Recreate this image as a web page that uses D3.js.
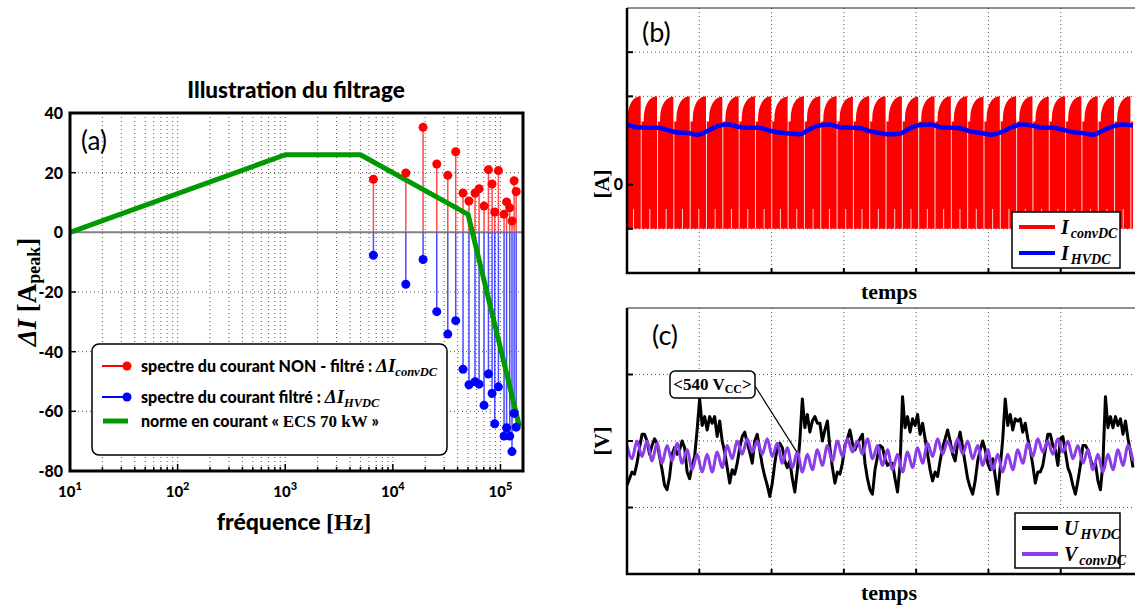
<!DOCTYPE html>
<html>
<head>
<meta charset="utf-8">
<script src="https://cdnjs.cloudflare.com/ajax/libs/d3/7.8.5/d3.min.js"></script>
<style>
  body { margin: 0; background: #fff; }
  text { font-family: Lato, "Open Sans", sans-serif; }
  .serif { font-family: "Liberation Serif", "Times New Roman", serif; }
  .heavy { font-weight: 900; }
</style>
</head>
<body>
<div id="chart"></div>
<script>
// ---------- data : (a) spectre ----------
var freqHz = [6600, 13200, 19100, 25600, 32400, 38400, 44900, 51000, 58000, 63300, 70400,
              77300, 83600, 88500, 95700, 108000, 114000, 122000, 128000, 134000, 140000];
var nonFiltre = [17.8, 19.9, 35.2, 22.9, 19.1, 27.0, 13.2, 10.5, 13.2, 14.6, 8.8,
                 21.0, 16.2, 6.8, 20.7, 6.1, 10.2, 8.2, 3.8, 17.3, 13.7];
var filtre = [-7.7, -17.4, -9.1, -26.6, -34.1, -29.6, -45.9, -51.1, -50.1, -50.9, -58.0,
              -47.5, -54.0, -64.2, -51.8, -68.3, -65.5, -68.3, -73.5, -60.7, -65.3];
var normeFreq = [10, 1000, 5000, 50000, 150000];
var normeVal = [0, 26, 26, 6, -65];
var yTicksA = [40, 20, 0, -20, -40, -60, -80];
var xTicksA = [10, 100, 1000, 10000, 100000];

// ---------- data : (b) courants ----------
var convPeak = [2.0, 2.0, 1.99, 2.0, 2.0, 1.99, 2.0, 2.0, 2.0, 1.99, 2.0, 2.0, 2.0, 1.99, 2.0, 2.0,
                2.0, 1.99, 2.0, 2.0, 2.0, 1.99, 2.0, 2.0, 2.0, 1.99, 2.0, 2.0, 2.0, 1.99, 2.0];
var convFoot = 1.43, convFloor = -1;
var iHvdc = [1.36, 1.30, 1.29, 1.29, 1.24, 1.18, 1.17, 1.13, 1.22, 1.33, 1.36, 1.31, 1.29, 1.29, 1.23,
             1.18, 1.16, 1.14, 1.25, 1.34, 1.36, 1.30, 1.29, 1.28, 1.21, 1.17, 1.14, 1.16, 1.28, 1.35,
             1.36, 1.30, 1.29, 1.27, 1.20, 1.17, 1.13, 1.19, 1.30, 1.36, 1.34, 1.29, 1.29, 1.25, 1.19,
             1.17, 1.13, 1.22, 1.32, 1.36, 1.34];

// ---------- data : (c) tensions ----------
var uHvdc = [520, 523, 526, 525, 530, 537, 543, 543, 540, 534, 538, 541, 539, 533, 527, 520, 518, 524, 534, 537,
             534, 536, 540, 537, 526, 523, 529, 533, 545,
             559, 547, 551, 545, 551, 548, 551, 542, 549, 540, 535, 528, 521, 527, 525, 530, 537, 542, 544, 539,
             535, 530, 540, 543, 536, 529, 524, 520, 515, 521, 530, 537, 539, 537, 531, 528, 531, 523, 517, 527, 540,
             559, 546, 552, 544, 549, 551, 548, 548, 540, 545, 549, 537, 528, 521, 526, 525, 530, 538, 541, 545,
             539, 536, 539, 541, 543, 530, 523, 518, 516, 527, 533, 538, 537, 532, 529, 530, 530, 523, 517, 529,
             560, 546, 551, 544, 550, 547, 552, 543, 548, 541, 534, 527, 522, 526, 524, 531, 537, 541, 545, 540,
             534, 531, 539, 544, 537, 530, 523, 519, 516, 522, 531, 536, 540, 536, 530, 527, 532, 524, 516, 528, 541,
             559, 547, 552, 545, 550, 549, 550, 544, 548, 541, 536, 529, 521, 526, 526, 529, 536, 543, 543, 538,
             536, 529, 541, 542, 535, 528, 525, 520, 516, 522, 529, 538, 538, 536, 532, 528, 530, 522, 518, 530,
             560, 546, 551, 546, 551, 547, 550, 543, 549, 541, 535, 528];
var vConv = [538, 532, 540, 533, 540, 531, 539, 530, 538, 531, 539, 530, 536, 527, 534, 526, 534, 526, 535, 528,
             538, 532, 540, 534, 541, 535, 540, 534, 541, 533, 539, 530, 537, 528, 535, 526, 534, 527, 536, 529,
             538, 531, 540, 533, 541, 535, 540, 534, 541, 532, 538, 529, 536, 527, 534, 526, 535, 528, 537, 530,
             539, 533, 541, 534, 540, 535, 541, 534, 540, 532, 538, 529, 536, 527, 534, 526, 534, 527, 536, 530,
             539, 533, 541, 535, 540, 534, 541, 535, 540, 532, 538, 530, 536, 527, 534, 526, 534, 527, 536, 529,
             538, 531];

var svg = d3.select("#chart").append("svg")
  .attr("width", 1135).attr("height", 608);

// ===================== (a) =====================
var xA = d3.scaleLog().domain([10, 1.62e5]).range([70, 523]);
var yA = d3.scaleLinear().domain([-80, 40]).range([471, 113]);
var gA = svg.append("g");

// grid
var minorA = xA.ticks().filter(function(f) { return f > 10 && f < 1.6e5; });
gA.selectAll(".vgrid").data(minorA).enter().append("line")
  .attr("x1", function(d) { return xA(d); }).attr("x2", function(d) { return xA(d); })
  .attr("y1", 113).attr("y2", 471)
  .attr("stroke", "#555").attr("stroke-width", 1).attr("stroke-dasharray", "1,3");
gA.selectAll(".hgrid").data([20, -20, -40, -60]).enter().append("line")
  .attr("x1", 70).attr("x2", 523)
  .attr("y1", function(d) { return yA(d); }).attr("y2", function(d) { return yA(d); })
  .attr("stroke", "#555").attr("stroke-width", 1).attr("stroke-dasharray", "1,3");

// zero line
gA.append("line").attr("x1", 70).attr("x2", 523).attr("y1", yA(0)).attr("y2", yA(0))
  .attr("stroke", "#808080").attr("stroke-width", 2);

// inward ticks
gA.selectAll(".bt").data(minorA).enter().append("line")
  .attr("x1", function(d) { return xA(d); }).attr("x2", function(d) { return xA(d); })
  .attr("y1", 471).attr("y2", function(d) { return xTicksA.indexOf(d) >= 0 ? 464 : 467; })
  .attr("stroke", "#000").attr("stroke-width", 1.5);
gA.selectAll(".lt").data(yTicksA).enter().append("line")
  .attr("x1", 70).attr("x2", 76)
  .attr("y1", function(d) { return yA(d); }).attr("y2", function(d) { return yA(d); })
  .attr("stroke", "#000").attr("stroke-width", 1.5);

// stems
gA.selectAll(".rs").data(freqHz).enter().append("line")
  .attr("x1", function(d) { return xA(d); }).attr("x2", function(d) { return xA(d); })
  .attr("y1", yA(0)).attr("y2", function(d, i) { return yA(nonFiltre[i]); })
  .attr("stroke", "#ff4a4a").attr("stroke-width", 1.5);
gA.selectAll(".bs").data(freqHz).enter().append("line")
  .attr("x1", function(d) { return xA(d); }).attr("x2", function(d) { return xA(d); })
  .attr("y1", yA(0)).attr("y2", function(d, i) { return yA(filtre[i]); })
  .attr("stroke", "#4a4aff").attr("stroke-width", 1.5);

// norme
gA.append("path")
  .datum(normeFreq)
  .attr("d", d3.line().x(function(d) { return xA(d); }).y(function(d, i) { return yA(normeVal[i]); }))
  .attr("fill", "none").attr("stroke", "#009a00").attr("stroke-width", 5)
  .attr("stroke-linejoin", "round");

// markers
gA.selectAll(".rm").data(freqHz).enter().append("circle")
  .attr("cx", function(d) { return xA(d); })
  .attr("cy", function(d, i) { return yA(nonFiltre[i]); })
  .attr("r", 4.5).attr("fill", "#ff0000");
gA.selectAll(".bm").data(freqHz).enter().append("circle")
  .attr("cx", function(d) { return xA(d); })
  .attr("cy", function(d, i) { return yA(filtre[i]); })
  .attr("r", 4.5).attr("fill", "#0000ff");

// frame
gA.append("rect").attr("x", 70).attr("y", 113).attr("width", 453).attr("height", 358)
  .attr("fill", "none").attr("stroke", "#000").attr("stroke-width", 3);

// tick labels
gA.selectAll(".yl").data(yTicksA).enter().append("text")
  .attr("class", "heavy")
  .attr("x", 63).attr("y", function(d) { return yA(d) + 6; })
  .attr("text-anchor", "end").attr("font-size", 16)
  .text(function(d) { return d; });
xTicksA.forEach(function(d) {
  var t = gA.append("text").attr("class", "heavy").attr("x", xA(d)).attr("y", 497)
    .attr("text-anchor", "middle").attr("font-size", 15);
  t.append("tspan").text("10");
  t.append("tspan").attr("dy", -7).attr("font-size", 11).text(Math.round(Math.log10(d)));
});

// titles
svg.append("text").attr("class", "heavy").attr("x", 296).attr("y", 98).attr("text-anchor", "middle")
  .attr("font-size", 22.5).text("Illustration du filtrage");
svg.append("text").attr("x", 81).attr("y", 150).attr("font-size", 26).text("(a)");

var xl = svg.append("text").attr("class", "heavy").attr("x", 294).attr("y", 530).attr("text-anchor", "middle")
  .attr("font-size", 23);
xl.append("tspan").text("fréquence ");
xl.append("tspan").attr("class", "serif").attr("font-weight", "bold").attr("font-size", 24).text("[Hz]");

var yl = svg.append("text").attr("transform", "translate(36,292) rotate(-90)")
  .attr("text-anchor", "middle").attr("class", "serif").attr("font-weight", "bold").attr("font-size", 27);
yl.append("tspan").attr("font-style", "italic").text("ΔI");
yl.append("tspan").text(" [A");
yl.append("tspan").attr("font-size", 18).attr("dy", 4).text("peak");
yl.append("tspan").attr("dy", -4).text("]");

// legend (a)
var lgA = svg.append("g");
lgA.append("rect").attr("x", 92).attr("y", 344).attr("width", 355).attr("height", 111).attr("rx", 7)
  .attr("fill", "#fff").attr("stroke", "#000").attr("stroke-width", 1.5);
var legA = [
  { y: 366, color: "#ff0000", marker: true, text: "spectre du courant NON - filtré : ", sub: "convDC" },
  { y: 397, color: "#0000ff", marker: true, text: "spectre du courant filtré : ", sub: "HVDC" },
  { y: 421, color: "#009a00", marker: false }
];
legA.forEach(function(e) {
  lgA.append("line").attr("x1", e.marker ? 102 : 103).attr("x2", 128).attr("y1", e.y).attr("y2", e.y)
    .attr("stroke", e.color).attr("stroke-width", e.marker ? 2 : 5);
  if (e.marker) lgA.append("circle").attr("cx", 127).attr("cy", e.y).attr("r", 4.5).attr("fill", e.color);
  var t = lgA.append("text").attr("class", "heavy").attr("x", 141).attr("y", e.y + 6).attr("font-size", 16);
  if (e.marker) {
    t.append("tspan").text(e.text);
    t.append("tspan").attr("class", "serif").attr("font-weight", "bold").attr("font-style", "italic").attr("font-size", 19).text("ΔI");
    t.append("tspan").attr("class", "serif").attr("font-weight", "bold").attr("font-style", "italic").attr("font-size", 12.5).attr("dy", 4).text(e.sub);
  } else {
    t.append("tspan").text("norme en courant « ");
    t.append("tspan").attr("class", "serif").attr("font-weight", "bold").attr("font-size", 17).text("ECS 70 kW");
    t.append("tspan").text(" »");
  }
});

// ===================== (b) & (c) common =====================
var xT = d3.scaleLinear().domain([0, 7]).range([627, 1133]);
var timeTicks = [1, 2, 3, 4, 5, 6];

svg.append("clipPath").attr("id", "clipB").append("rect")
  .attr("x", 627).attr("y", 8).attr("width", 508).attr("height", 265);
svg.append("clipPath").attr("id", "clipC").append("rect")
  .attr("x", 627).attr("y", 308).attr("width", 508).attr("height", 266);

function frame(g, top, bottom, yScale, yTicks) {
  g.selectAll(".vg").data(timeTicks).enter().append("line")
    .attr("x1", function(d) { return xT(d); }).attr("x2", function(d) { return xT(d); })
    .attr("y1", top).attr("y2", bottom)
    .attr("stroke", "#555").attr("stroke-width", 1).attr("stroke-dasharray", "1,3");
  g.selectAll(".hg").data(yTicks).enter().append("line")
    .attr("x1", 627).attr("x2", 1135)
    .attr("y1", function(d) { return yScale(d); }).attr("y2", function(d) { return yScale(d); })
    .attr("stroke", "#555").attr("stroke-width", 1).attr("stroke-dasharray", "1,3");
}
function axes(g, top, bottom, yScale, yTicks) {
  g.append("line").attr("x1", 627).attr("x2", 1135).attr("y1", top).attr("y2", top)
    .attr("stroke", "#222").attr("stroke-width", 1.2);
  g.append("line").attr("x1", 627).attr("x2", 627).attr("y1", top).attr("y2", bottom + 1)
    .attr("stroke", "#000").attr("stroke-width", 2.5);
  g.append("line").attr("x1", 626).attr("x2", 1135).attr("y1", bottom).attr("y2", bottom)
    .attr("stroke", "#000").attr("stroke-width", 2.5);
  g.selectAll(".bt").data(timeTicks).enter().append("line")
    .attr("x1", function(d) { return xT(d); }).attr("x2", function(d) { return xT(d); })
    .attr("y1", bottom).attr("y2", bottom - 5).attr("stroke", "#000").attr("stroke-width", 2);
  g.selectAll(".lt").data(yTicks).enter().append("line")
    .attr("x1", 627).attr("x2", 633)
    .attr("y1", function(d) { return yScale(d); }).attr("y2", function(d) { return yScale(d); })
    .attr("stroke", "#000").attr("stroke-width", 2);
}

// ===================== (b) =====================
var yB = d3.scaleLinear().domain([-2, 4]).range([273, 8]);
var gB = svg.append("g");
frame(gB, 8, 273, yB, [-1, 1, 2, 3]);

var finW = 7 / convPeak.length;
var finProfile = [[0.02, 0], [0.04, 0.3], [0.1, 0.51], [0.18, 0.66], [0.27, 0.77], [0.4, 0.88],
                  [0.57, 0.96], [0.72, 0.99], [0.82, 1]];
var redPts = [[0, convFloor]];
convPeak.forEach(function(p, k) {
  var x0 = k * finW;
  finProfile.forEach(function(q) {
    redPts.push([x0 + q[0] * finW, convFoot + q[1] * (p - convFoot)]);
  });
  redPts.push([x0 + 0.84 * finW, p]);
  redPts.push([x0 + 0.84 * finW, convFoot]);
  redPts.push([x0 + finW, convFoot]);
});
redPts.push([7, convFloor]);
var gBc = gB.append("g").attr("clip-path", "url(#clipB)");
gBc.append("path").datum(redPts)
  .attr("d", d3.line().x(function(d) { return xT(d[0]); }).y(function(d) { return yB(d[1]); }))
  .attr("fill", "#ff0000").attr("stroke", "none");
// white gaps inside the PWM band
gBc.selectAll(".gap").data(convPeak).enter().append("line")
  .attr("x1", function(d, k) { return xT(k * finW + 0.84 * finW) + 0.5; })
  .attr("x2", function(d, k) { return xT(k * finW + 0.84 * finW) + 0.5; })
  .attr("y1", yB(convFloor)).attr("y2", yB(convFoot))
  .attr("stroke", "#fff").attr("stroke-width", 1).attr("opacity", 0.85);
gBc.selectAll(".spk").data(convPeak).enter().append("line")
  .attr("x1", function(d, k) { return xT(k * finW + 0.4 * finW); })
  .attr("x2", function(d, k) { return xT(k * finW + 0.4 * finW); })
  .attr("y1", yB(convFloor)).attr("y2", yB(-0.55))
  .attr("stroke", "#fff").attr("stroke-width", 1).attr("opacity", 0.8);

var hStep = 7 / (iHvdc.length - 1);
gBc.append("path").datum(iHvdc)
  .attr("d", d3.line().x(function(d, i) { return xT(i * hStep); }).y(function(d) { return yB(d); })
    .curve(d3.curveMonotoneX))
  .attr("fill", "none").attr("stroke", "#0000ff").attr("stroke-width", 4.5);

axes(gB, 8, 273, yB, [-1, 0, 2, 3]);

svg.append("text").attr("x", 642).attr("y", 42).attr("font-size", 27).text("(b)");
svg.append("text").attr("class", "heavy").attr("x", 623).attr("y", 190).attr("text-anchor", "end")
  .attr("font-size", 16).text("0");
svg.append("text").attr("transform", "translate(609,184) rotate(-90)").attr("text-anchor", "middle")
  .attr("class", "serif").attr("font-weight", "bold").attr("font-size", 21).text("[A]");
svg.append("text").attr("x", 889).attr("y", 299).attr("text-anchor", "middle")
  .attr("class", "serif").attr("font-weight", "bold").attr("font-size", 22).text("temps");

function legend(x, y, w, h, items) {
  var g = svg.append("g");
  g.append("rect").attr("x", x).attr("y", y).attr("width", w).attr("height", h)
    .attr("fill", "#fff").attr("stroke", "#000").attr("stroke-width", 1.5);
  items.forEach(function(e, i) {
    var cy = y + 15 + i * 26;
    g.append("line").attr("x1", x + 7).attr("x2", x + 43).attr("y1", cy).attr("y2", cy)
      .attr("stroke", e.color).attr("stroke-width", 4);
    var t = g.append("text").attr("x", x + 49).attr("y", cy + 7).attr("class", "serif")
      .attr("font-weight", "bold").attr("font-style", "italic").attr("font-size", 20);
    t.append("tspan").text(e.main);
    t.append("tspan").attr("font-size", 14).attr("dy", 4).attr("dx", 2).text(e.sub);
  });
}
legend(1012, 212, 108, 56, [
  { color: "#ff0000", main: "I", sub: "convDC" },
  { color: "#0000ff", main: "I", sub: "HVDC" }
]);

// ===================== (c) =====================
var yC = d3.scaleLinear().domain([480, 600]).range([574, 308]);
var gC = svg.append("g");
frame(gC, 308, 574, yC, [510, 540, 570]);
var gCc = gC.append("g").attr("clip-path", "url(#clipC)");

var vStep = 7 / (vConv.length - 1);
var uStep = 7 / (uHvdc.length - 1);
gCc.append("path").datum(uHvdc)
  .attr("d", d3.line().x(function(d, i) { return xT(i * uStep); }).y(function(d) { return yC(d); }))
  .attr("fill", "none").attr("stroke", "#000").attr("stroke-width", 3).attr("stroke-linejoin", "round");
gCc.append("path").datum(vConv)
  .attr("d", d3.line().x(function(d, i) { return xT(i * vStep); }).y(function(d) { return yC(d); })
    .curve(d3.curveMonotoneX))
  .attr("fill", "none").attr("stroke", "#8a3de8").attr("stroke-width", 3).attr("stroke-linejoin", "round");

axes(gC, 308, 574, yC, [510, 540, 570]);

svg.append("text").attr("x", 652).attr("y", 345).attr("font-size", 27).text("(c)");
svg.append("text").attr("transform", "translate(609,441) rotate(-90)").attr("text-anchor", "middle")
  .attr("class", "serif").attr("font-weight", "bold").attr("font-size", 21).text("[V]");
svg.append("text").attr("x", 889).attr("y", 600).attr("text-anchor", "middle")
  .attr("class", "serif").attr("font-weight", "bold").attr("font-size", 22).text("temps");

// annotation <540 Vcc>
svg.append("line").attr("x1", 755).attr("y1", 386).attr("x2", xT(2.35)).attr("y2", yC(535))
  .attr("stroke", "#000").attr("stroke-width", 1.2);
svg.append("rect").attr("x", 670).attr("y", 371).attr("width", 85).attr("height", 27).attr("rx", 5)
  .attr("fill", "#fff").attr("stroke", "#000").attr("stroke-width", 1.5);
var an = svg.append("text").attr("x", 712.5).attr("y", 390).attr("text-anchor", "middle")
  .attr("class", "serif").attr("font-weight", "bold").attr("font-size", 17);
an.append("tspan").text("<540 V");
an.append("tspan").attr("font-size", 12).attr("dy", 3).text("CC");
an.append("tspan").attr("dy", -3).text(">");

legend(1015, 513, 105, 55, [
  { color: "#000", main: "U", sub: "HVDC" },
  { color: "#8a3de8", main: "V", sub: "convDC" }
]);
</script>
</body>
</html>
